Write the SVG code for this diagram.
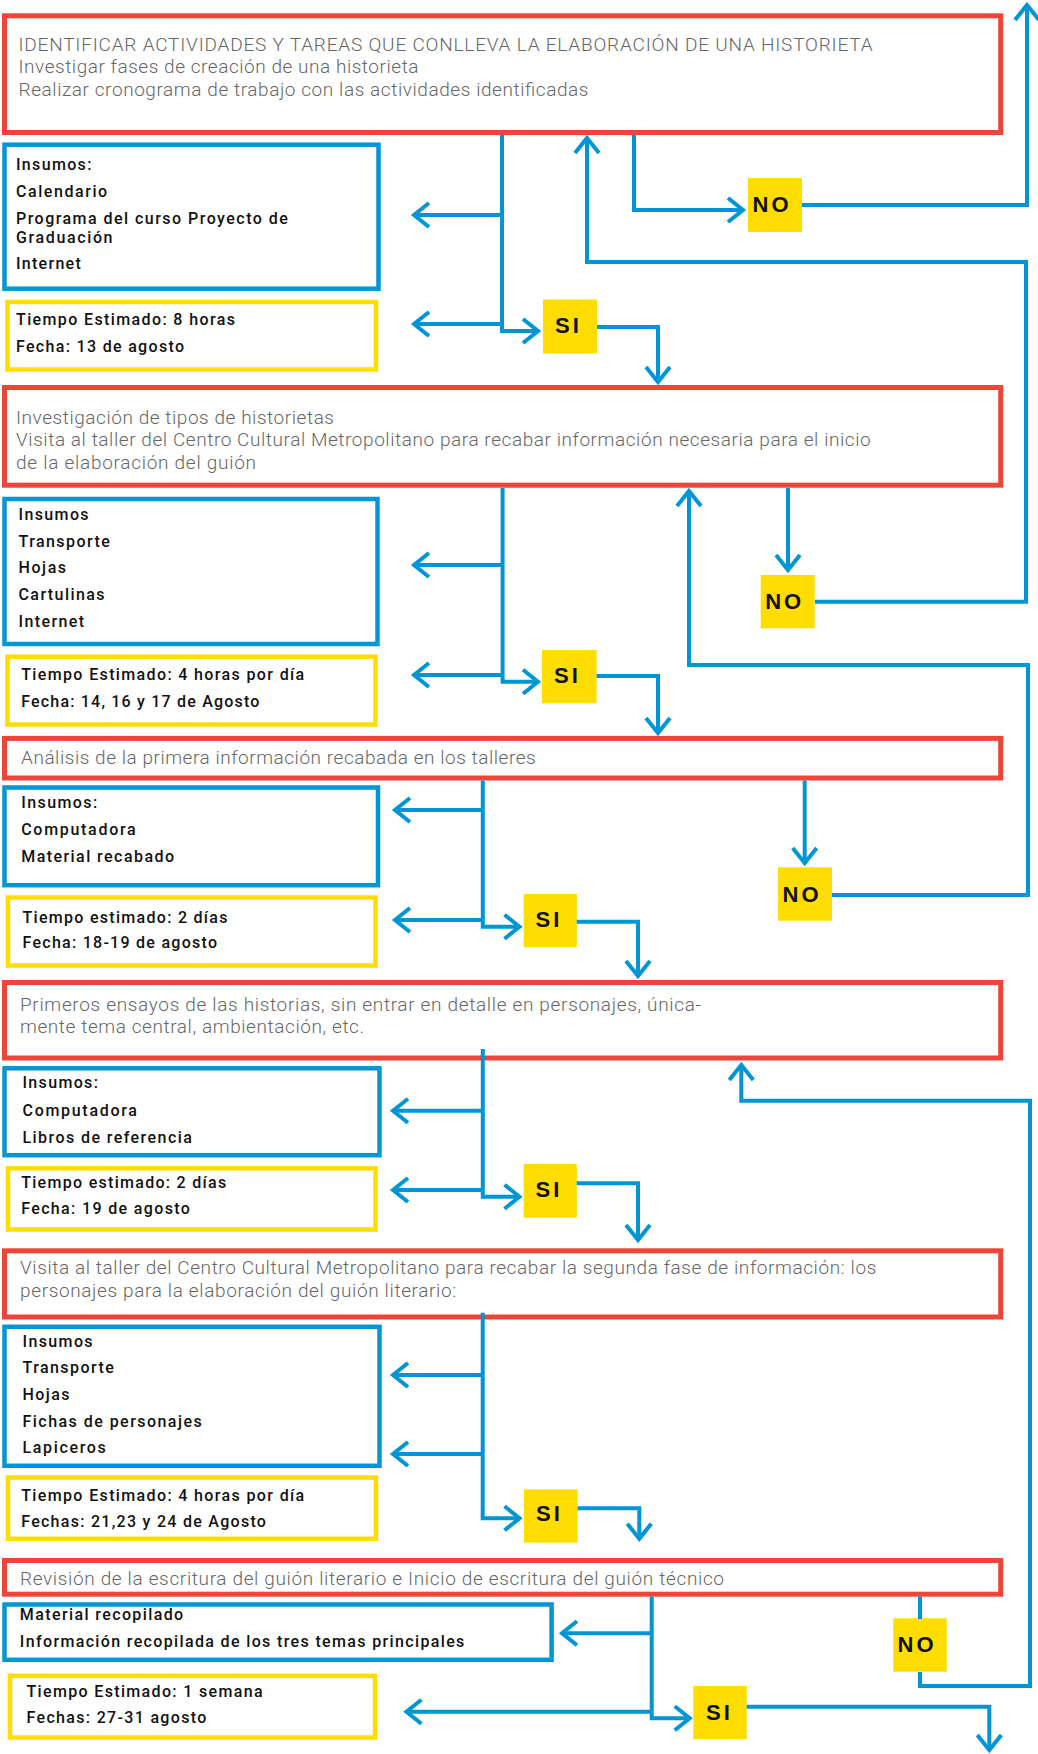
<svg xmlns="http://www.w3.org/2000/svg" width="1038" height="1754" viewBox="0 0 1038 1754">
<style>
.red{fill:#fff;stroke:#EF4438;stroke-width:5}
.blue{fill:#fff;stroke:#0096D6;stroke-width:4.5}
.yel{fill:#fff;stroke:#FFDD00;stroke-width:4.5}
.tag{fill:#FFDD00}
.gt{font-family:Roboto,"Liberation Sans",sans-serif;font-weight:300;font-size:19px;fill:#666}
.ct{font-family:Roboto,"Liberation Sans",sans-serif;font-weight:500;font-size:16px;fill:#111}
.lb{font-family:"Liberation Sans",Arial,sans-serif;font-weight:bold;font-size:22px;fill:#111;letter-spacing:3px}
.c{fill:none;stroke:#0096D6;stroke-width:4;stroke-linejoin:miter}
.a{marker-end:url(#ah)}
</style>
<defs>
<marker id="ah" markerUnits="userSpaceOnUse" viewBox="-20 -16 26 32" refX="0" refY="0" markerWidth="26" markerHeight="32" orient="auto" overflow="visible">
<path d="M-15,-12 L0,0 L-15,12" fill="none" stroke="#0096D6" stroke-width="4"/>
</marker>
</defs>
<rect width="1038" height="1754" fill="#fff"/>

<g id="box1">
<rect class="red" x="4.5" y="15.8" width="996.2" height="116.7"/>
<text class="gt" x="18.5" y="51" textLength="854">IDENTIFICAR ACTIVIDADES Y TAREAS QUE CONLLEVA LA ELABORACIÓN DE UNA HISTORIETA</text>
<text class="gt" x="18.5" y="73" textLength="400">Investigar fases de creación de una historieta</text>
<text class="gt" x="18.5" y="96" textLength="570">Realizar cronograma de trabajo con las actividades identificadas</text>
</g>
<g id="ins1">
<rect class="blue" x="4.5" y="144.7" width="374" height="144"/>
<text class="ct" x="16" y="170" textLength="75.4">Insumos:</text>
<text class="ct" x="16" y="196.7" textLength="91.2">Calendario</text>
<text class="ct" x="16" y="224" textLength="271.8">Programa del curso Proyecto de</text>
<text class="ct" x="16" y="242.7" textLength="96.5">Graduación</text>
<text class="ct" x="16" y="269.3" textLength="64.8">Internet</text>
</g>
<g id="time1">
<rect class="yel" x="7.5" y="302" width="368.5" height="67.5"/>
<text class="ct" x="16" y="325" textLength="218.9">Tiempo Estimado: 8 horas</text>
<text class="ct" x="16" y="351.7" textLength="168">Fecha: 13 de agosto</text>
</g>
<g id="si1"><rect class="tag" x="543" y="299.5" width="54" height="54"/><text class="lb" x="555" y="332.5">SI</text></g>
<g id="no1"><rect class="tag" x="748" y="178" width="54" height="54"/><text class="lb" x="752.5" y="212">NO</text></g>

<g id="box2">
<rect class="red" x="4.5" y="387.5" width="996.2" height="97.7"/>
<text class="gt" x="16" y="423.5" textLength="318">Investigación de tipos de historietas</text>
<text class="gt" x="16" y="446" textLength="854.7">Visita al taller del Centro Cultural Metropolitano para recabar información necesaria para el inicio</text>
<text class="gt" x="16" y="468.5" textLength="240">de la elaboración del guión</text>
</g>
<g id="ins2">
<rect class="blue" x="4.5" y="499" width="373" height="145"/>
<text class="ct" x="18.5" y="520" textLength="70.1">Insumos</text>
<text class="ct" x="18.5" y="546.7" textLength="91.3">Transporte</text>
<text class="ct" x="18.5" y="573.3" textLength="47.6">Hojas</text>
<text class="ct" x="18.5" y="600" textLength="86">Cartulinas</text>
<text class="ct" x="18.5" y="626.7" textLength="65.5">Internet</text>
</g>
<g id="time2">
<rect class="yel" x="7.5" y="656.7" width="368" height="67.8"/>
<text class="ct" x="21.2" y="680" textLength="283">Tiempo Estimado: 4 horas por día</text>
<text class="ct" x="21.2" y="706.7" textLength="238.1">Fecha: 14, 16 y 17 de Agosto</text>
</g>
<g id="si2"><rect class="tag" x="542" y="650" width="54.6" height="53.3"/><text class="lb" x="554" y="682.5">SI</text></g>
<g id="no2"><rect class="tag" x="760.7" y="575" width="54" height="53.3"/><text class="lb" x="765.2" y="609">NO</text></g>

<g id="box3">
<rect class="red" x="4.5" y="738.4" width="996.2" height="39.6"/>
<text class="gt" x="21" y="763.5" textLength="514.7">Análisis de la primera información recabada en los talleres</text>
</g>
<g id="ins3">
<rect class="blue" x="4.5" y="787.5" width="373.5" height="97.7"/>
<text class="ct" x="21.2" y="808.3" textLength="76">Insumos:</text>
<text class="ct" x="21.2" y="835" textLength="114.4">Computadora</text>
<text class="ct" x="21.2" y="861.7" textLength="152.8">Material recabado</text>
</g>
<g id="time3">
<rect class="yel" x="8" y="897.5" width="367.5" height="68"/>
<text class="ct" x="22.5" y="922.7" textLength="205">Tiempo estimado: 2 días</text>
<text class="ct" x="22.5" y="948.3" textLength="194.5">Fecha: 18-19 de agosto</text>
</g>
<g id="si3"><rect class="tag" x="523.8" y="894" width="53" height="53.3"/><text class="lb" x="535.5" y="927">SI</text></g>
<g id="no3"><rect class="tag" x="778" y="867.3" width="54" height="53.4"/><text class="lb" x="782.5" y="901.5">NO</text></g>

<g id="box4">
<rect class="red" x="4.5" y="982.5" width="996.2" height="75.5"/>
<text class="gt" x="20" y="1010.7" textLength="681">Primeros ensayos de las historias, sin entrar en detalle en personajes, única-</text>
<text class="gt" x="20" y="1032.5" textLength="344">mente tema central, ambientación, etc.</text>
</g>
<g id="ins4">
<rect class="blue" x="4.5" y="1068.3" width="375" height="86.9"/>
<text class="ct" x="22.5" y="1088.3" textLength="75.4">Insumos:</text>
<text class="ct" x="22.5" y="1115.7" textLength="114.4">Computadora</text>
<text class="ct" x="22.5" y="1142.7" textLength="169.3">Libros de referencia</text>
</g>
<g id="time4">
<rect class="yel" x="8" y="1168.3" width="367.5" height="61.2"/>
<text class="ct" x="21.2" y="1188.3" textLength="205">Tiempo estimado: 2 días</text>
<text class="ct" x="21.2" y="1214.3" textLength="168.6">Fecha: 19 de agosto</text>
</g>
<g id="si4"><rect class="tag" x="523.8" y="1164" width="53" height="53.7"/><text class="lb" x="535.5" y="1197">SI</text></g>

<g id="box5">
<rect class="red" x="4.5" y="1250.8" width="996.2" height="66.2"/>
<text class="gt" x="20" y="1274" textLength="856.3">Visita al taller del Centro Cultural Metropolitano para recabar la segunda fase de información: los</text>
<text class="gt" x="20" y="1296.5" textLength="436.3">personajes para la elaboración del guión literario:</text>
</g>
<g id="ins5">
<rect class="blue" x="4.5" y="1326.8" width="375" height="139"/>
<text class="ct" x="22.5" y="1346.7" textLength="70.1">Insumos</text>
<text class="ct" x="22.5" y="1372.7" textLength="91.3">Transporte</text>
<text class="ct" x="22.5" y="1400" textLength="46.9">Hojas</text>
<text class="ct" x="22.5" y="1426.7" textLength="179.2">Fichas de personajes</text>
<text class="ct" x="22.5" y="1453.3" textLength="83.3">Lapiceros</text>
</g>
<g id="time5">
<rect class="yel" x="8" y="1477.5" width="368" height="61.3"/>
<text class="ct" x="21.2" y="1500.7" textLength="283">Tiempo Estimado: 4 horas por día</text>
<text class="ct" x="21.2" y="1527.3" textLength="244.7">Fechas: 21,23 y 24 de Agosto</text>
</g>
<g id="si5"><rect class="tag" x="524" y="1489.3" width="53.7" height="53.4"/><text class="lb" x="536" y="1521">SI</text></g>

<g id="box6">
<rect class="red" x="4.5" y="1560.5" width="996.2" height="33.7"/>
<text class="gt" x="20" y="1584.5" textLength="704">Revisión de la escritura del guión literario e Inicio de escritura del guión técnico</text>
</g>
<g id="ins6">
<rect class="blue" x="4.5" y="1604.5" width="547.1" height="55.3"/>
<text class="ct" x="19.8" y="1620" textLength="163.4">Material recopilado</text>
<text class="ct" x="19.8" y="1646.7" textLength="444.5">Información recopilada de los tres temas principales</text>
</g>
<g id="time6">
<rect class="yel" x="10" y="1675.8" width="365" height="61.7"/>
<text class="ct" x="26.5" y="1696.7" textLength="236.1">Tiempo Estimado: 1 semana</text>
<text class="ct" x="26.5" y="1723.3" textLength="179.8">Fechas: 27-31 agosto</text>
</g>
<g id="si6"><rect class="tag" x="693.3" y="1686" width="53.4" height="53.3"/><text class="lb" x="706" y="1719.5">SI</text></g>
<g id="no4"><rect class="tag" x="893.3" y="1618.3" width="53.4" height="53.4"/><text class="lb" x="897.5" y="1651.7">NO</text></g>

<g id="connectors">
<path class="c a" d="M502,135 V331 H538"/>
<path class="c a" d="M502,215 H414"/>
<path class="c a" d="M502,324 H414"/>
<path class="c a" d="M597,327 H658 V382"/>
<path class="c a" d="M634,135 V210 H743"/>
<path class="c a" d="M802,205 H1027 V5"/>
<path class="c a" d="M815,601.7 H1026 V262 H587 V138"/>

<path class="c a" d="M502.6,488 V681.7 H538"/>
<path class="c a" d="M502.6,565 H414"/>
<path class="c a" d="M502.6,675 H414"/>
<path class="c a" d="M596.6,676 H658 V733"/>
<path class="c a" d="M788,488 V570"/>
<path class="c a" d="M832,895 H1028 V665 H689 V491"/>

<path class="c a" d="M482.8,780.5 V926.7 H519.5"/>
<path class="c a" d="M482.8,810 H395"/>
<path class="c a" d="M482.8,920 H395"/>
<path class="c a" d="M576.7,921.7 H638 V976"/>
<path class="c a" d="M804.7,780.5 V863"/>

<path class="c a" d="M482.8,1049 V1196.7 H519.5"/>
<path class="c a" d="M482.8,1110.7 H393"/>
<path class="c a" d="M482.8,1190 H393"/>
<path class="c a" d="M576.7,1183.3 H638 V1240"/>
<path class="c a" d="M920,1672 V1686 H1030 V1100.7 H741.3 V1065"/>

<path class="c a" d="M482.7,1312.7 V1518.3 H519.5"/>
<path class="c a" d="M482.7,1375 H393"/>
<path class="c a" d="M482.7,1454 H393"/>
<path class="c a" d="M577.7,1508.3 H639.3 V1538.7"/>

<path class="c a" d="M651.7,1596.5 V1718.3 H689.7"/>
<path class="c a" d="M651.7,1633.3 H562"/>
<path class="c a" d="M651.7,1711.7 H406.4"/>
<path class="c a" d="M746.7,1706.7 H989.3 V1750"/>
<path class="c" d="M920,1596.5 V1619"/>
</g>
</svg>
